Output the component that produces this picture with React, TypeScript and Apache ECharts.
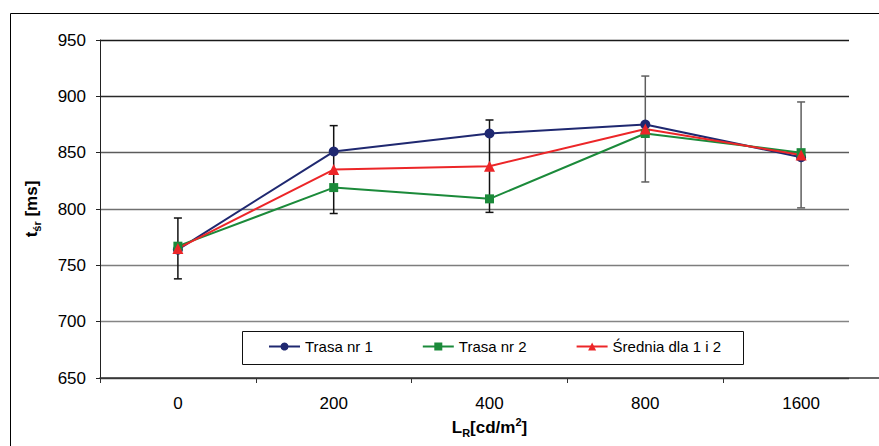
import React, { useEffect, useRef } from "react";
import * as echarts from "echarts";

const categories = ["0", "200", "400", "800", "1600"];
const trasa1 = [764, 851, 867, 875, 846];
const trasa2 = [767, 819, 809, 867, 850];
const srednia = [765, 835, 838, 871, 848];
const errLow = [738, 796, 797, 824, 801];
const errHigh = [792, 874, 879, 918, 895];
const yMin = 650;
const yMax = 950;
const yStep = 50;
const seriesNames = ["Trasa nr 1", "Trasa nr 2", "Średnia dla 1 i 2"];

const FONT = "'Liberation Sans', Arial, sans-serif";
const errColors = ["#111", "#111", "#111", "#5e5e5e", "#5e5e5e"];

export default function App() {
  const ref = useRef<HTMLDivElement>(null);
  useEffect(() => {
    if (!ref.current) return;
    const chart = echarts.init(ref.current, null, { renderer: "svg" });
    const option: any = {
      animation: false,
      backgroundColor: "#fff",
      textStyle: { fontFamily: FONT },
      grid: [
        { left: 100, right: -13, top: 40, bottom: 68, containLabel: false },
        { left: 100, width: 749, top: 40, bottom: 68, containLabel: false },
      ],
      legend: {
        data: seriesNames,
        left: 268,
        top: 339,
        padding: 0,
        itemWidth: 31,
        itemHeight: 10,
        itemGap: 49,
        z: 10,
        textStyle: { fontFamily: FONT, fontSize: 15, color: "#000" },
      },
      xAxis: [
        {
          type: "category",
          gridIndex: 0,
          data: categories,
          boundaryGap: true,
          axisLine: { lineStyle: { color: "#333", width: 1.5 } },
          axisTick: { show: true, inside: false, length: 5, lineStyle: { color: "#333" } },
          axisLabel: { fontSize: 17, color: "#000", margin: 17, fontFamily: FONT },
          name: "{a|L}{s|R}{a|[cd/m}{p|2}{a|]}",
          nameLocation: "middle",
          nameGap: 37,
          nameTextStyle: {
            rich: {
              a: { fontSize: 17, fontWeight: "bold", fontFamily: FONT, color: "#000", lineHeight: 22 },
              s: { fontSize: 11, fontWeight: "bold", fontFamily: FONT, color: "#000", lineHeight: 12, verticalAlign: "bottom" },
              p: { fontSize: 11, fontWeight: "bold", fontFamily: FONT, color: "#000", lineHeight: 12, verticalAlign: "top" },
            },
          },
          splitLine: { show: false },
        },
        { type: "value", gridIndex: 1, show: false, min: 0, max: 1 },
      ],
      yAxis: [
        {
          type: "value",
          gridIndex: 0,
          min: yMin,
          max: yMax,
          interval: yStep,
          axisLine: { show: true, lineStyle: { color: "#222", width: 1 } },
          axisTick: { show: true, length: 4, lineStyle: { color: "#222" } },
          axisLabel: { fontSize: 17, color: "#000", margin: 14, fontFamily: FONT },
          splitLine: { show: false },
          name: "{t|t}{s|śr}{t| [ms]}",
          nameLocation: "middle",
          nameRotate: 90,
          nameGap: 58,
          nameTextStyle: {
            rich: {
              t: { fontSize: 17, fontWeight: "bold", fontFamily: FONT, color: "#000", lineHeight: 22 },
              s: { fontSize: 11, fontWeight: "bold", fontFamily: FONT, color: "#000", lineHeight: 12, verticalAlign: "bottom" },
            },
          },
        },
        {
          type: "value",
          gridIndex: 1,
          min: yMin,
          max: yMax,
          interval: yStep,
          axisLine: { show: false },
          axisTick: { show: false },
          axisLabel: { show: false },
          splitLine: {
            show: true,
            lineStyle: {
              width: 1.4,
              color: ["#444", "#858585", "#7d7d7d", "#707070", "#5c5c5c", "#2a2a2a", "#1a1a1a"],
            },
          },
        },
      ],
      graphic: [
        {
          type: "rect",
          shape: { x: 10.5, y: 13.5, width: 1000, height: 1000 },
          style: { fill: "none", stroke: "#000", lineWidth: 1 },
          z: 1,
          silent: true,
        },
        {
          type: "rect",
          shape: { x: 242.5, y: 331.5, width: 501, height: 33 },
          style: { fill: "none", stroke: "#111", lineWidth: 1 },
          z: 1,
          silent: true,
        },
      ],
      series: [
        {
          type: "custom",
          name: "err",
          xAxisIndex: 0,
          yAxisIndex: 0,
          z: 2,
          data: categories.map((c, i) => [i, errLow[i], errHigh[i]]),
          encode: { x: 0, y: [1, 2] },
          renderItem: (params: any, api: any) => {
            const i = api.value(0);
            const lo = api.coord([i, api.value(1)]);
            const hi = api.coord([i, api.value(2)]);
            const color = errColors[params.dataIndex];
            const st = { stroke: color, lineWidth: 1.5 };
            const cap = 4;
            return {
              type: "group",
              children: [
                { type: "line", shape: { x1: lo[0], y1: lo[1], x2: hi[0], y2: hi[1] }, style: st },
                { type: "line", shape: { x1: lo[0] - cap, y1: lo[1], x2: lo[0] + cap, y2: lo[1] }, style: st },
                { type: "line", shape: { x1: hi[0] - cap, y1: hi[1], x2: hi[0] + cap, y2: hi[1] }, style: st },
              ],
            };
          },
        },
        {
          type: "line",
          name: seriesNames[0],
          data: trasa1,
          color: "#1f2870",
          symbol: "circle",
          symbolSize: 10,
          lineStyle: { width: 2 },
          z: 3,
        },
        {
          type: "line",
          name: seriesNames[1],
          data: trasa2,
          color: "#1b8a3a",
          symbol: "rect",
          symbolSize: 9,
          lineStyle: { width: 2 },
          z: 3,
        },
        {
          type: "line",
          name: seriesNames[2],
          data: srednia,
          color: "#ec2628",
          symbol: "triangle",
          symbolSize: 11,
          lineStyle: { width: 2 },
          z: 3,
        },
      ],
    };
    chart.setOption(option);
    return () => chart.dispose();
  }, []);
  return (
    <div
      ref={ref}
      style={{ position: "fixed", left: 0, top: 0, width: 879, height: 446 }}
    />
  );
}
